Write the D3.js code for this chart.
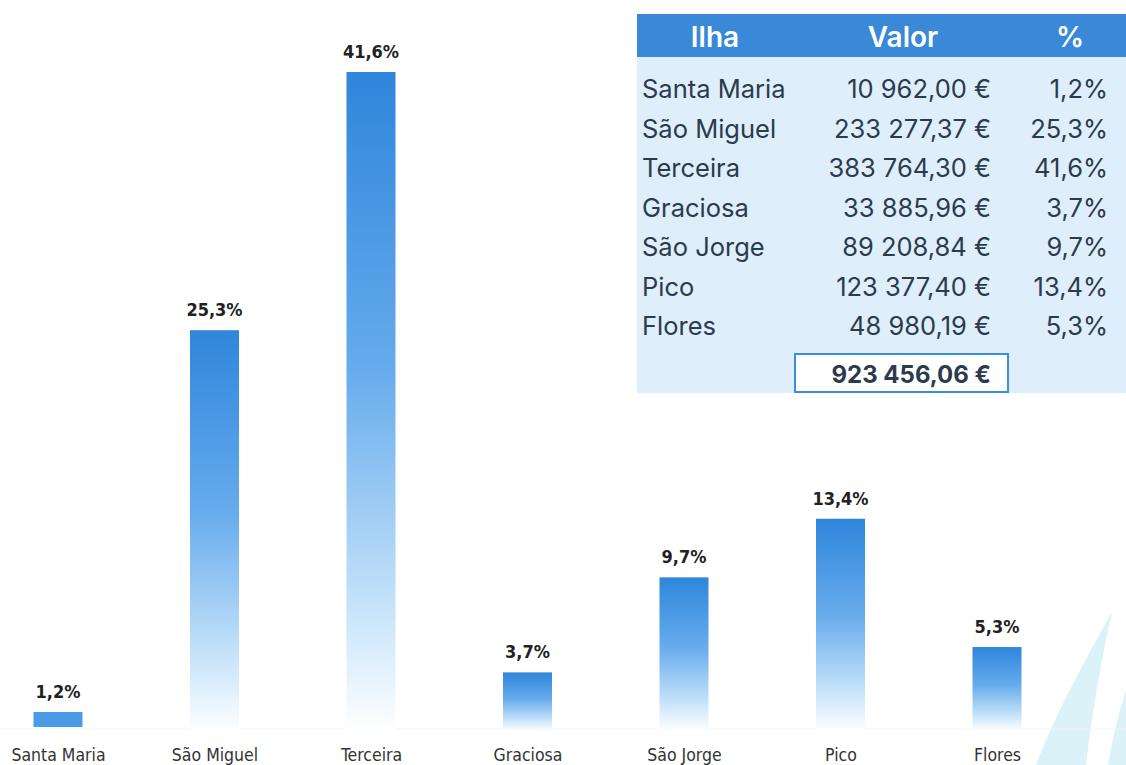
<!DOCTYPE html>
<html>
<head>
<meta charset="utf-8">
<script src="https://cdn.jsdelivr.net/npm/d3@7"></script>
<style>
  html, body { margin: 0; padding: 0; background: #fff; }
  svg { display: block; }
</style>
</head>
<body>
<div id="chart-area"></div>
<script>
// data
const ISLANDS = ["Santa Maria", "São Miguel", "Terceira", "Graciosa", "São Jorge", "Pico", "Flores"]
const PERCENTS = [1.2, 25.3, 41.6, 3.7, 9.7, 13.4, 5.3]
const VALUES = [10962.00, 233277.37, 383764.30, 33885.96, 89208.84, 123377.40, 48980.19]
const TOTAL = 923456.06
const HEADERS = ["Ilha", "Valor", "%"]

const WIDTH = 1126
const HEIGHT = 765
const BASE_Y = 731

const svg = d3.select("#chart-area").append("svg")
  .attr("width", WIDTH)
  .attr("height", HEIGHT)

const defs = svg.append("defs")
const grad = defs.append("linearGradient")
  .attr("id", "barGrad")
  .attr("x1", 0).attr("y1", 0).attr("x2", 0).attr("y2", 1)
grad.append("stop").attr("offset", "0%").attr("stop-color", "#2f86dc")
grad.append("stop").attr("offset", "45%").attr("stop-color", "#66abec")
grad.append("stop").attr("offset", "82%").attr("stop-color", "#c8e4fa")
grad.append("stop").attr("offset", "100%").attr("stop-color", "#ffffff")

// faint sail decoration bottom right
svg.append("path")
  .attr("d", "M1112,612 C1085,660 1055,715 1036,765 L1086,765 C1092,715 1101,660 1112,612 Z")
  .attr("fill", "#cdeef6")
  .attr("opacity", 0.75)
svg.append("path")
  .attr("d", "M1126,690 C1118,715 1112,740 1108,765 L1126,765 Z")
  .attr("fill", "#cdeef6")
  .attr("opacity", 0.75)

// scales
const x = d3.scalePoint()
  .domain(ISLANDS)
  .range([58, 997])

const y = d3.scaleLinear()
  .domain([0, 41.6])
  .range([BASE_Y, 72])

const BAR_W = 49
const fmtPct = d => d3.format(".1f")(d).replace(".", ",") + "%"

// faint baseline
svg.append("line")
  .attr("x1", 0).attr("x2", WIDTH)
  .attr("y1", BASE_Y - 2).attr("y2", BASE_Y - 2)
  .attr("stroke", "#f3f5f7")
  .attr("stroke-width", 1)

const bars = svg.selectAll("g.bar")
  .data(ISLANDS.map((name, i) => ({ name, pct: PERCENTS[i] })))
  .enter().append("g")
  .attr("class", "bar")

bars.append("rect")
  .attr("x", d => x(d.name) - BAR_W / 2)
  .attr("y", d => y(d.pct))
  .attr("width", BAR_W)
  .attr("height", d => d.pct < 3 ? y(0) - y(d.pct) - 4 : y(0) - y(d.pct))
  .attr("fill", d => d.pct < 3 ? "#4a9be6" : "url(#barGrad)")

bars.append("text")
  .attr("x", d => x(d.name))
  .attr("y", d => y(d.pct) - 14)
  .attr("text-anchor", "middle")
  .attr("font-family", "'DejaVu Sans Condensed', 'DejaVu Sans', sans-serif")
  .attr("font-weight", "bold")
  .attr("font-size", "18px")
  .attr("fill", "#222")
  .text(d => fmtPct(d.pct))

// x axis labels
svg.append("g")
  .attr("transform", `translate(0, ${BASE_Y})`)
  .call(d3.axisBottom(x).tickSize(0).tickPadding(18))
  .call(g => g.select(".domain").remove())
  .selectAll("text")
    .attr("font-family", "'DejaVu Sans Condensed', 'DejaVu Sans', sans-serif")
    .attr("font-size", "17.5px")
    .attr("fill", "#333")

// table
const T = { LEFT: 637, RIGHT: 1126, TOP: 14, HEAD_H: 43, BOTTOM: 393 }
const ROW_Y0 = 89
const ROW_STEP = 39.5
const COL_NAME = 642
const COL_VAL = 991
const COL_PCT = 1108
const fmtEur = v => {
  const parts = v.toFixed(2).split(".")
  return parts[0].replace(/\B(?=(\d{3})+(?!\d))/g, " ") + "," + parts[1] + " €"
}

const tbl = svg.append("g").attr("font-family", "Inter, 'Noto Sans', sans-serif")

tbl.append("rect")
  .attr("x", T.LEFT).attr("y", T.TOP)
  .attr("width", T.RIGHT - T.LEFT).attr("height", T.BOTTOM - T.TOP)
  .attr("fill", "#deeefb")

tbl.append("rect")
  .attr("x", T.LEFT).attr("y", T.TOP)
  .attr("width", T.RIGHT - T.LEFT).attr("height", T.HEAD_H)
  .attr("fill", "#3a88d8")

const headX = [715, 903, 1070]
tbl.selectAll("text.head")
  .data(HEADERS)
  .enter().append("text")
  .attr("class", "head")
  .attr("x", (d, i) => headX[i])
  .attr("y", T.TOP + T.HEAD_H / 2 + 1)
  .attr("dy", "0.36em")
  .attr("text-anchor", "middle")
  .attr("font-size", "28px")
  .attr("font-weight", "600")
  .attr("fill", "#fff")
  .text(d => d)

const rows = tbl.selectAll("g.row")
  .data(ISLANDS.map((name, i) => ({ name, val: VALUES[i], pct: PERCENTS[i] })))
  .enter().append("g")
  .attr("class", "row")
  .attr("transform", (d, i) => `translate(0, ${ROW_Y0 + i * ROW_STEP})`)
  .attr("font-size", "25.5px")
  .attr("fill", "#2b3b4d")

rows.append("text")
  .attr("x", COL_NAME).attr("dy", "0.36em")
  .text(d => d.name)
rows.append("text")
  .attr("x", COL_VAL).attr("dy", "0.36em")
  .attr("text-anchor", "end")
  .text(d => fmtEur(d.val))
rows.append("text")
  .attr("x", COL_PCT).attr("dy", "0.36em")
  .attr("text-anchor", "end")
  .text(d => fmtPct(d.pct))

// total box
tbl.append("rect")
  .attr("x", 795).attr("y", 354)
  .attr("width", 213).attr("height", 38)
  .attr("fill", "#fff")
  .attr("stroke", "#3a8ee0")
  .attr("stroke-width", 2)
tbl.append("text")
  .attr("x", COL_VAL).attr("y", 374)
  .attr("dy", "0.36em")
  .attr("text-anchor", "end")
  .attr("font-size", "24px")
  .attr("font-weight", "bold")
  .attr("fill", "#2b3b4d")
  .text(fmtEur(TOTAL))
</script>
</body>
</html>
